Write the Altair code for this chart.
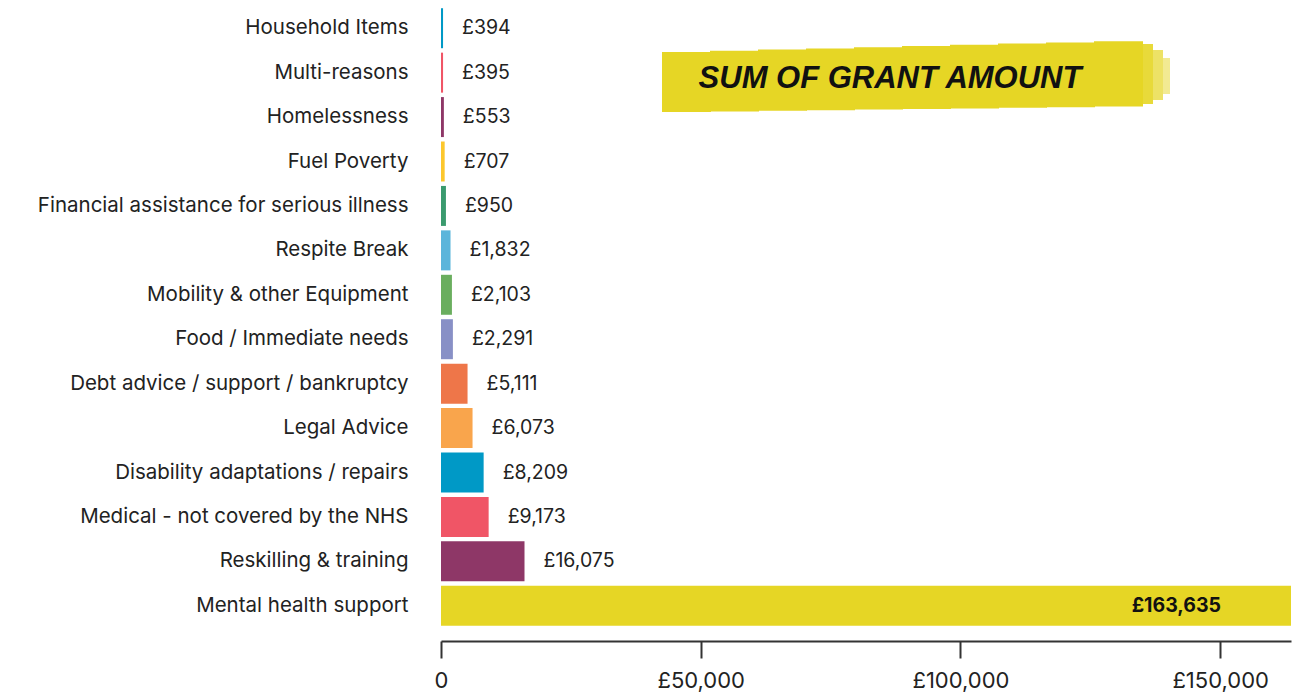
import altair as alt
import pandas as pd

categories = [
    "Household Items", "Multi-reasons", "Homelessness", "Fuel Poverty",
    "Financial assistance for serious illness", "Respite Break",
    "Mobility & other Equipment", "Food / Immediate needs",
    "Debt advice / support / bankruptcy", "Legal Advice",
    "Disability adaptations / repairs", "Medical - not covered by the NHS",
    "Reskilling & training", "Mental health support",
]
amounts = [394, 395, 553, 707, 950, 1832, 2103, 2291, 5111, 6073, 8209, 9173, 16075, 163635]
colors = ["#0099C6", "#F05566", "#8E3767", "#FCC72C", "#3A9A6E", "#5BB5DB",
          "#6AAE5E", "#8890C6", "#EE7649", "#F9A54C", "#0099C6", "#F05566",
          "#8E3767", "#E6D625"]
labels = ["£{:,}".format(a) for a in amounts]
title_text = "SUM OF GRANT AMOUNT"
x_ticks = [0, 50000, 100000, 150000]

df = pd.DataFrame({"category": categories, "amount": amounts, "label": labels})
df["inside"] = df["amount"] > 100000

FONT = "Inter"
W, H = 850, 622

x = alt.X("amount:Q",
          scale=alt.Scale(domain=[0, max(amounts)], nice=False),
          axis=alt.Axis(values=x_ticks, labelExpr="datum.value == 0 ? '0' : '£' + format(datum.value, ',')",
                        title=None, grid=False, domainColor="#333333", domainWidth=2,
                        tickColor="#333333", tickWidth=2, tickSize=17, offset=13,
                        labelFont=FONT, labelFontSize=22, labelColor="#222222",
                        labelPadding=12, labelFlush=False))
y = alt.Y("category:N", sort=categories,
          scale=alt.Scale(paddingInner=0.1, paddingOuter=0.05),
          axis=alt.Axis(title=None, domain=False, ticks=False, labelFont=FONT,
                        labelFontSize=20.5, labelColor="#222222", labelPadding=33,
                        labelLimit=500))

bars = alt.Chart(df).mark_bar().encode(
    x=x, y=y,
    color=alt.Color("category:N", scale=alt.Scale(domain=categories, range=colors), legend=None),
)

out_text = alt.Chart(df).transform_filter("!datum.inside").mark_text(
    align="left", baseline="middle", dx=19, font=FONT, fontSize=19.5, color="#222222"
).encode(x="amount:Q", y=alt.Y("category:N", sort=categories), text="label:N")

in_text = alt.Chart(df).transform_filter("datum.inside").mark_text(
    align="right", baseline="middle", dx=-70, font=FONT, fontSize=19.5, fontWeight="bold", color="#111111"
).encode(x="amount:Q", y=alt.Y("category:N", sort=categories), text="label:N")

deco = pd.DataFrame({"t": [title_text]})
BRUSH = "#E6D625"
def brect(x1, x2, y1, y2, op=1.0):
    return alt.Chart(deco).mark_rect(color=BRUSH, opacity=op).encode(
        x=alt.value(x1), x2=alt.value(x2), y=alt.value(y1), y2=alt.value(y2))

# decorative brush-stroke behind the title (plot-area pixel offsets)
brush = []
steps = 10
for i in range(steps):
    x1 = 221 + i * 48
    x2 = x1 + 49
    top = 46 - i * 1.2
    bot = 106 - i * 0.6
    brush.append(brect(x1, x2, top, bot))
brush += [
    brect(700, 712, 38, 98, 0.9),
    brect(712, 722, 44, 94, 0.7),
    brect(722, 729, 52, 88, 0.5),
]
title = alt.Chart(deco).mark_text(
    font="Liberation Sans", fontSize=31, fontWeight="bold", fontStyle="italic",
    color="#111111", align="center", baseline="middle"
).encode(x=alt.value(449), y=alt.value(73), text="t:N")

chart = alt.layer(bars, out_text, in_text, *brush, title).properties(
    width=W, height=H,
    background="white",
    autosize=alt.AutoSizeParams(type="none"),
    padding={"left": 441, "top": 6, "right": 19, "bottom": 70},
).configure_view(stroke=None, strokeWidth=0)

chart.save("out.html", embed_options={"renderer": "svg", "actions": False})
